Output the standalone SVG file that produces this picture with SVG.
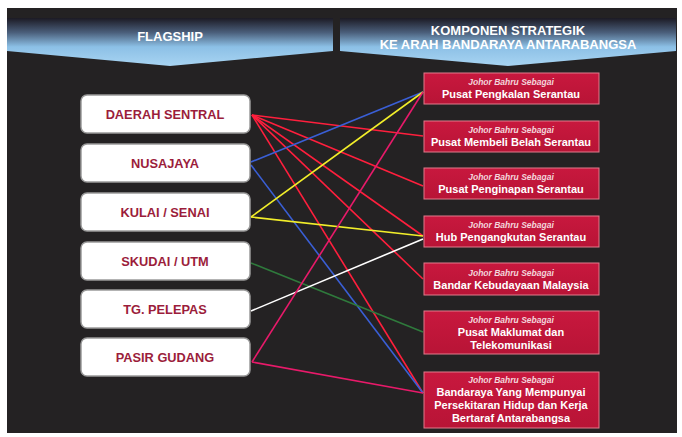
<svg xmlns="http://www.w3.org/2000/svg" width="682" height="437" viewBox="0 0 682 437">
<defs>
<linearGradient id="hdr" x1="0" y1="0" x2="0" y2="1">
<stop offset="0" stop-color="#1c1a24"/>
<stop offset="0.3" stop-color="#4a5e7a"/>
<stop offset="0.6" stop-color="#8cc0e6"/>
<stop offset="1" stop-color="#a8d4f2"/>
</linearGradient>
<linearGradient id="red" x1="0" y1="0" x2="0" y2="1">
<stop offset="0" stop-color="#c8183e"/>
<stop offset="1" stop-color="#b81436"/>
</linearGradient>
</defs>
<style>
.hd{font-family:"Liberation Sans",Arial,sans-serif;font-weight:bold;fill:#fff;font-size:13px;text-anchor:middle}
.lb rect{fill:#fff;stroke:#9a9a9a;stroke-width:1.5}
.lb text{font-family:"Liberation Sans",Arial,sans-serif;font-weight:bold;fill:#9b1d3b;font-size:12.8px;text-anchor:middle}
.rb rect{fill:url(#red);stroke:#e27a8c;stroke-width:1}
.rb .s{font-family:"Liberation Sans",Arial,sans-serif;font-style:italic;font-weight:bold;fill:#f3d6dc;font-size:8.5px;text-anchor:middle}
.rb .m{font-family:"Liberation Sans",Arial,sans-serif;font-weight:bold;fill:#fff;font-size:11px;text-anchor:middle}
.c line{stroke-width:1.6;fill:none}
</style>
<rect x="0" y="0" width="682" height="437" fill="#fff"/>
<rect x="7" y="8" width="670" height="425" fill="#242223"/>
<g id="header-flagship">
<path d="M7 18 H333 V51 L170 66 L7 51 Z" fill="url(#hdr)"/>
<text class="hd" x="170" y="41">FLAGSHIP</text>
</g>
<g id="header-komponen">
<path d="M340 18 H676 V51 L508 66 L340 51 Z" fill="url(#hdr)"/>
<text class="hd" x="508" y="35">KOMPONEN STRATEGIK</text>
<text class="hd" x="508" y="49">KE ARAH BANDARAYA ANTARABANGSA</text>
</g>
<g id="connectors" class="c">
<line x1="252" y1="115" x2="423" y2="136" stroke="#ff1f3d"/>
<line x1="252" y1="115" x2="423" y2="186" stroke="#ff1f3d"/>
<line x1="252" y1="115" x2="423" y2="236" stroke="#ff1f3d"/>
<line x1="252" y1="115" x2="423" y2="279" stroke="#ff1f3d"/>
<line x1="252" y1="115" x2="423" y2="393" stroke="#ff1f3d"/>
<line x1="251" y1="162" x2="423" y2="92" stroke="#3a5fd6"/>
<line x1="251" y1="165" x2="423" y2="393" stroke="#3a5fd6"/>
<line x1="251" y1="217" x2="423" y2="92" stroke="#f2ee2a"/>
<line x1="251" y1="217" x2="423" y2="236" stroke="#f2ee2a"/>
<line x1="251" y1="263" x2="423" y2="332" stroke="#2f7a3c"/>
<line x1="251" y1="311" x2="423" y2="239" stroke="#ffffff"/>
<line x1="252" y1="362" x2="423" y2="92" stroke="#e81a6a"/>
<line x1="252" y1="362" x2="423" y2="393" stroke="#e81a6a"/>
</g>
<g id="daerah-sentral" class="lb"><rect x="81" y="95" width="169" height="38" rx="6"/><text x="165" y="119">DAERAH SENTRAL</text></g>
<g id="nusajaya" class="lb"><rect x="81" y="144" width="169" height="38" rx="6"/><text x="165" y="168">NUSAJAYA</text></g>
<g id="kulai-senai" class="lb"><rect x="81" y="193" width="169" height="38" rx="6"/><text x="165" y="217">KULAI / SENAI</text></g>
<g id="skudai-utm" class="lb"><rect x="81" y="242" width="169" height="38" rx="6"/><text x="165" y="266">SKUDAI / UTM</text></g>
<g id="tg-pelepas" class="lb"><rect x="81" y="290" width="169" height="38" rx="6"/><text x="165" y="314">TG. PELEPAS</text></g>
<g id="pasir-gudang" class="lb"><rect x="81" y="338" width="169" height="38" rx="6"/><text x="165" y="362">PASIR GUDANG</text></g>
<g id="pusat-pengkalan" class="rb"><rect x="424" y="73" width="175" height="31"/><text class="s" x="511" y="85">Johor Bahru Sebagai</text><text class="m" x="511" y="98">Pusat Pengkalan Serantau</text></g>
<g id="pusat-membeli" class="rb"><rect x="424" y="121" width="175" height="31"/><text class="s" x="511" y="133">Johor Bahru Sebagai</text><text class="m" x="511" y="146">Pusat Membeli Belah Serantau</text></g>
<g id="pusat-penginapan" class="rb"><rect x="424" y="168" width="175" height="31"/><text class="s" x="511" y="180">Johor Bahru Sebagai</text><text class="m" x="511" y="193">Pusat Penginapan Serantau</text></g>
<g id="hub-pengangkutan" class="rb"><rect x="424" y="216" width="175" height="31"/><text class="s" x="511" y="228">Johor Bahru Sebagai</text><text class="m" x="511" y="241">Hub Pengangkutan Serantau</text></g>
<g id="bandar-kebudayaan" class="rb"><rect x="424" y="263" width="175" height="32"/><text class="s" x="511" y="276">Johor Bahru Sebagai</text><text class="m" x="511" y="289">Bandar Kebudayaan Malaysia</text></g>
<g id="pusat-maklumat" class="rb"><rect x="424" y="311" width="175" height="43"/><text class="s" x="511" y="323">Johor Bahru Sebagai</text><text class="m" x="511" y="336">Pusat Maklumat dan</text><text class="m" x="511" y="349">Telekomunikasi</text></g>
<g id="bandaraya" class="rb"><rect x="424" y="372" width="175" height="56"/><text class="s" x="511" y="383">Johor Bahru Sebagai</text><text class="m" x="511" y="396">Bandaraya Yang Mempunyai</text><text class="m" x="511" y="409">Persekitaran Hidup dan Kerja</text><text class="m" x="511" y="422">Bertaraf Antarabangsa</text></g>
</svg>
